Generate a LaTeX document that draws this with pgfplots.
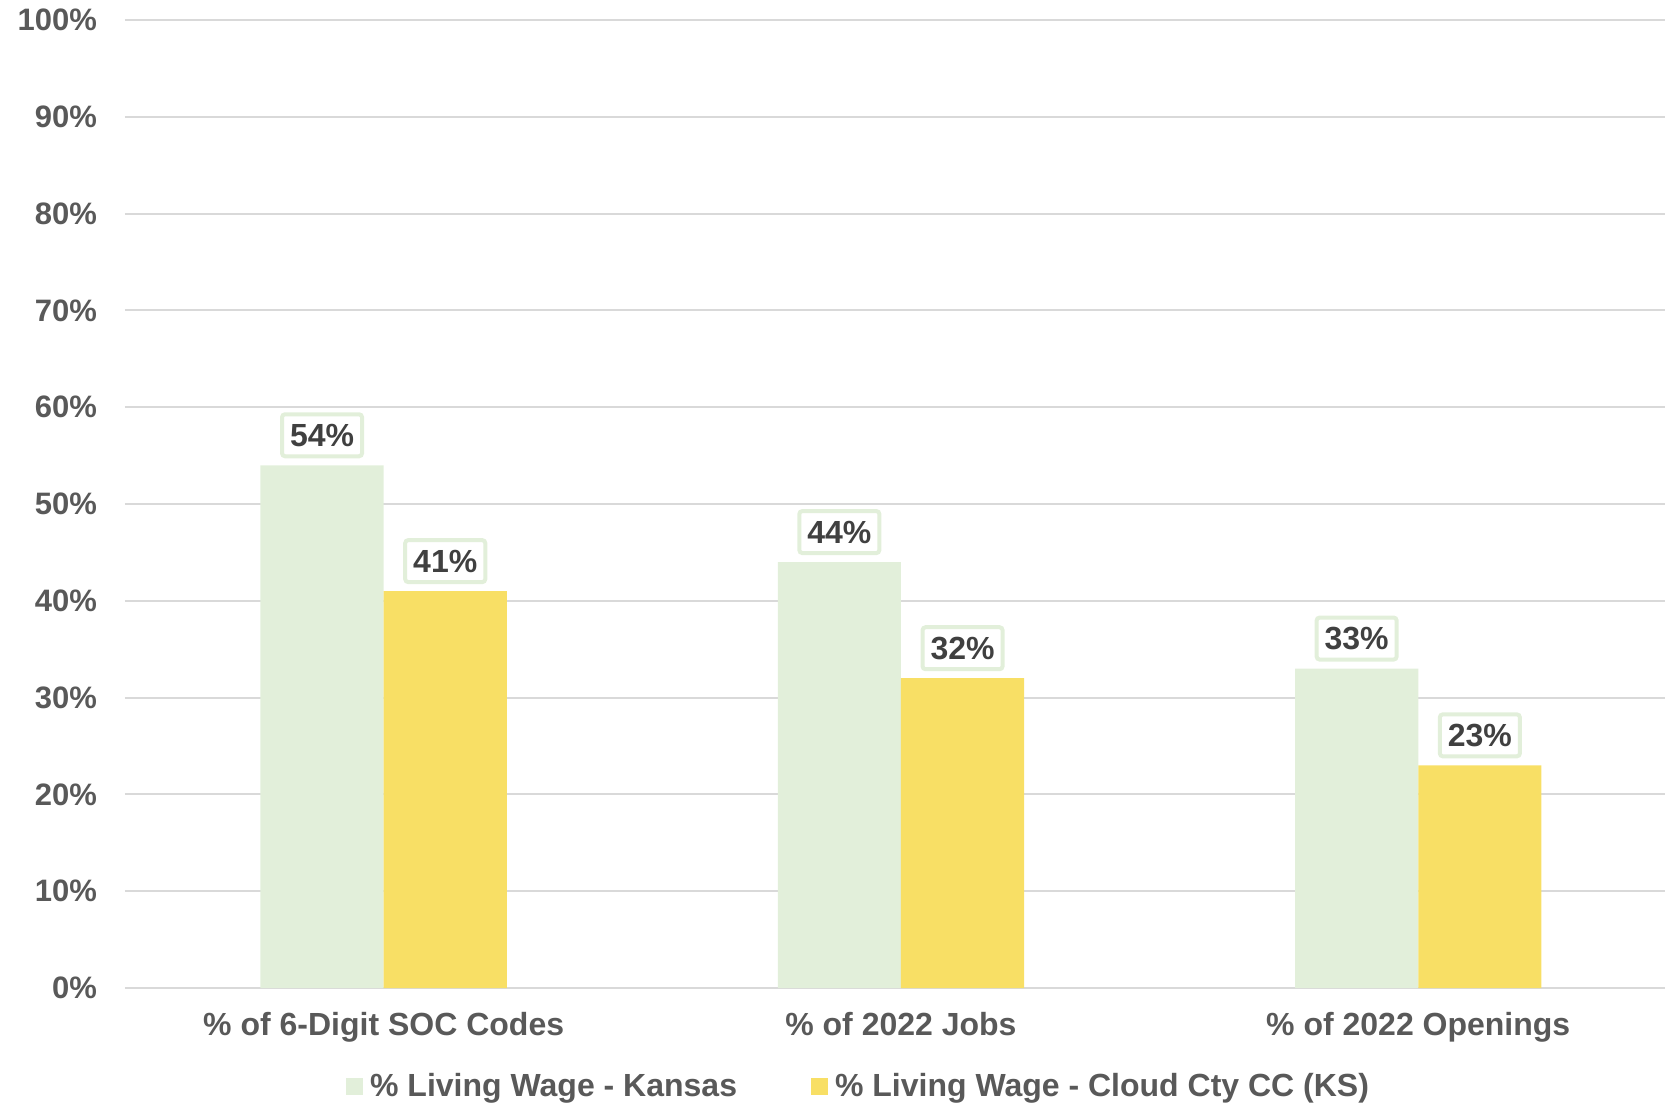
\documentclass[border=0pt]{standalone}
\usepackage{fontspec}
\setmainfont{Liberation Sans}
\usepackage{pgfplots}
\pgfplotsset{compat=1.18}
\definecolor{kgreen}{HTML}{E2EFDA}
\definecolor{kyellow}{HTML}{F8DF65}
\definecolor{tgray}{HTML}{595959}
\definecolor{lgray}{HTML}{404040}
\definecolor{gridgray}{HTML}{D9D9D9}
\begin{document}
\begin{tikzpicture}
\useasboundingbox (-62.5pt,-57.5pt) rectangle (770pt,494pt);
\begin{axis}[
  at={(0pt,0pt)}, anchor=south west,
  scale only axis, width=770pt, height=484pt,
  ybar=0pt, bar width=61.6pt,
  xmin=-0.5, xmax=2.477, ymin=0, ymax=100,
  xtick=data, xticklabels={\% of 6-Digit SOC Codes,\% of 2022 Jobs,\% of 2022 Openings},
  ytick={0,10,...,100},
  yticklabel={\pgfmathprintnumber{\tick}\%},
  /pgf/number format/assume math mode=true,
  axis line style={draw=none},
  major tick length=0pt,
  xmajorgrids=false,
  ymajorgrids, grid style={draw=gridgray, line width=1pt},
  tick label style={font=\bfseries\fontsize{16}{20}\selectfont, text=tgray},
  yticklabel style={xshift=-10.5pt, font=\bfseries\fontsize{15.5}{20}\selectfont},
  xticklabel style={yshift=-8.7pt},
  nodes near coords={\pgfmathprintnumber{\pgfplotspointmeta}\%},
  nodes near coords style={font=\bfseries\fontsize{16}{20}\selectfont, text=lgray, fill=white, draw=kgreen, line width=2pt, rounded corners=1.5pt, inner xsep=4pt, minimum height=21pt, anchor=south, yshift=3.5pt},
  legend style={draw=none, at={(0.477,-0.102)}, anchor=center, legend columns=2, font=\bfseries\fontsize{16}{20}\selectfont, text=tgray, /tikz/every even column/.append style={column sep=35pt}},
  legend image code/.code={\fill[#1] (0pt,-4.2pt) rectangle (8.5pt,4.3pt);},
  legend style={/tikz/every node/.append style={inner xsep=2pt}},
]
\addplot[fill=kgreen, draw=none] coordinates {(0,54) (1,44) (2,33)};
\addplot[fill=kyellow, draw=none] coordinates {(0,41) (1,32) (2,23)};
\legend{\hspace{1.5pt}\% Living Wage - Kansas, \hspace{1.5pt}\% Living Wage - Cloud Cty CC (KS)}
\end{axis}
\end{tikzpicture}
\end{document}
